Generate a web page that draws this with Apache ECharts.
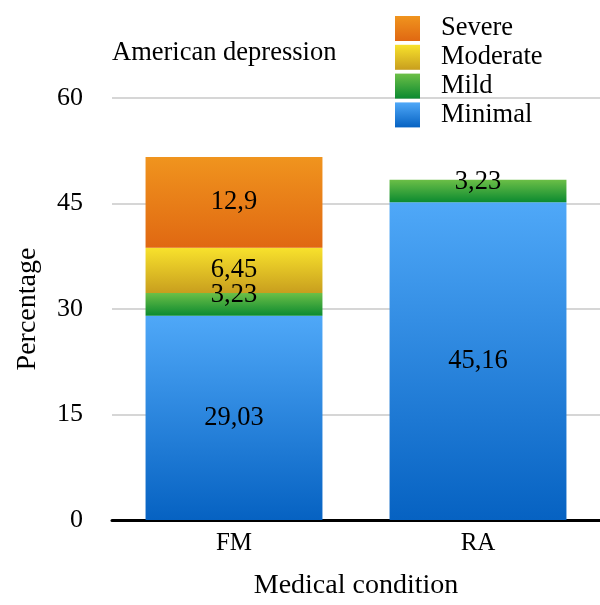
<!DOCTYPE html>
<html>
<head>
<meta charset="utf-8">
<style>
  html, body { margin: 0; padding: 0; background: #fff; }
  #chart { width: 600px; height: 605px; }
</style>
<script src="https://cdn.jsdelivr.net/npm/echarts@6/dist/echarts.min.js"></script>
</head>
<body>
<div id="chart"></div>
<script>
// Depression severity by medical condition (percent of patients)
const categories = ['FM', 'RA'];
const minimal = [29.03, 45.16];
const mild = [3.23, 3.23];
const moderate = [6.45, null];
const severe = [12.9, null];
const yTicks = { min: 0, max: 60, interval: 15 };

const FONT = '"Liberation Serif", "Times New Roman", serif';

function grad(top, bottom) {
  return new echarts.graphic.LinearGradient(0, 0, 0, 1, [
    { offset: 0, color: top },
    { offset: 1, color: bottom }
  ]);
}

function fmt(p) {
  return String(p.value).replace('.', ',');
}

function seriesOf(name, data, top, bottom, labelOffset) {
  return {
    name: name,
    type: 'bar',
    stack: 'total',
    data: data,
    barWidth: '72.5%',
    itemStyle: { color: grad(top, bottom) },
    label: {
      show: true,
      position: 'inside',
      formatter: fmt,
      color: '#000',
      fontFamily: FONT,
      fontSize: 26.5,
      offset: labelOffset || [0, 0]
    },
    emphasis: { disabled: true }
  };
}

const chart = echarts.init(document.getElementById('chart'));
chart.setOption({
  animation: false,
  backgroundColor: '#fff',
  textStyle: { fontFamily: FONT },
  title: {
    text: 'American depression',
    left: 112,
    top: 40,
    padding: 0,
    textStyle: { fontFamily: FONT, fontSize: 26.5, fontWeight: 'normal', color: '#000' }
  },
  legend: {
    orient: 'vertical',
    left: 395,
    top: 15,
    padding: 0,
    itemWidth: 25,
    itemHeight: 25,
    itemGap: 1.8,
    icon: 'rect',
    data: ['Severe', 'Moderate', 'Mild', 'Minimal'],
    textStyle: { fontFamily: FONT, fontSize: 26.5, color: '#000', padding: [0, 0, 0, 16] }
  },
  grid: { left: 112, right: 0, top: 98, bottom: 79 },
  xAxis: {
    type: 'category',
    data: categories,
    name: 'Medical condition',
    nameLocation: 'middle',
    nameGap: 52,
    nameTextStyle: { fontFamily: FONT, fontSize: 28, color: '#000' },
    axisLine: { lineStyle: { color: '#000', width: 3 } },
    axisTick: { show: false },
    axisLabel: { fontFamily: FONT, fontSize: 25, color: '#000', margin: 11 }
  },
  yAxis: {
    type: 'value',
    min: yTicks.min,
    max: yTicks.max,
    interval: yTicks.interval,
    name: 'Percentage',
    nameLocation: 'middle',
    nameGap: 70,
    nameTextStyle: { fontFamily: FONT, fontSize: 28, color: '#000' },
    axisLine: { show: false },
    axisTick: { show: false },
    axisLabel: { fontFamily: FONT, fontSize: 26, color: '#000', margin: 29 },
    splitLine: { lineStyle: { color: '#c8c8c8', width: 1.5 } }
  },
  series: [
    seriesOf('Minimal', minimal, '#4fa8f8', '#0662c2'),
    seriesOf('Mild', mild, '#6cbf47', '#0b8a30', [0, -9]),
    seriesOf('Moderate', moderate, '#f8e22c', '#c89e1e'),
    seriesOf('Severe', severe, '#f0941e', '#e06812')
  ]
});
</script>
</body>
</html>
